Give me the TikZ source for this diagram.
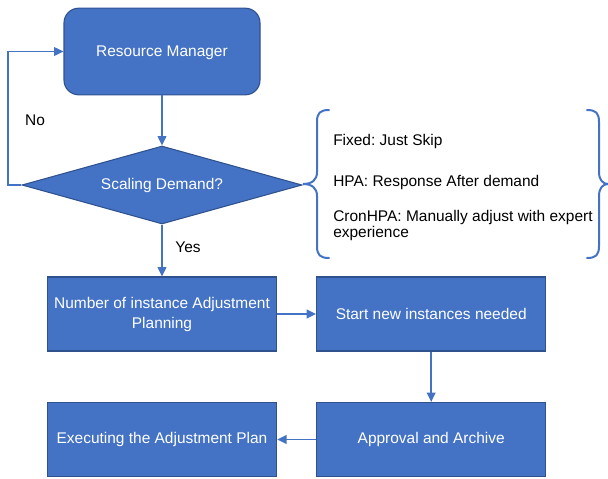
\documentclass[tikz,border=0pt]{standalone}
\usepackage{fontspec}
\setmainfont{Liberation Sans}
\usetikzlibrary{shapes.geometric, arrows.meta}
\definecolor{boxblue}{HTML}{4472C4}
\definecolor{edgeblue}{HTML}{2F528F}
\frenchspacing

\begin{document}
\begin{tikzpicture}[x=0.75pt, y=-0.75pt, font=\fontsize{11.6}{13}\selectfont,
  block/.style={draw=edgeblue, fill=boxblue, text=white, line width=0.8pt, minimum width=172pt, minimum height=55.5pt, align=center, inner sep=2pt},
  flow/.style={draw=boxblue, line width=1.1pt, -{Triangle[length=7pt,width=6.5pt]}},
  brace line/.style={draw=boxblue, line width=1.5pt, line cap=round}]

\useasboundingbox (0,0) rectangle (608,479);

\begin{scope}
\node[block, rounded corners=11pt, minimum width=147pt, minimum height=65pt, text depth=0pt] (rm) at (162,51.5) {Resource Manager};
\node[draw=edgeblue, fill=boxblue, text=white, line width=0.8pt, diamond, aspect=3.6, inner sep=0pt, minimum width=210pt, minimum height=58.5pt] (dec) at (162,185) {Scaling Demand?};

\node[block] (plan) at (162,314) {Number of instance Adjustment\\[2pt]Planning};
\node[block] (start) at (431.2,314) {Start new instances needed};
\node[block] (approve) at (431.2,439.5) {Approval and Archive};
\node[block] (exec) at (162,439.5) {Executing the Adjustment Plan};

\coordinate (loop) at (8,185);
\draw[flow] (rm) -- (dec);
\draw[flow] (dec.west) -- (loop) |- (rm.west);
\draw[flow] (dec) -- (plan);
\draw[flow] (plan) -- (start);
\draw[flow] (start) -- (approve);
\draw[flow] (approve) -- (exec);

\node (no) at (35,120) {No};
\node (yes) at (188,247) {Yes};
\end{scope}

\begin{scope}
\node[anchor=west, inner sep=0pt] (fixed) at (333,141) {Fixed: Just Skip};
\node[anchor=west, inner sep=0pt] (hpa) at (333,182) {HPA: Response After demand};
\node[anchor=north west, inner sep=0pt, align=left] (cron) at (333,210) {CronHPA: Manually adjust with expert\\[-1pt]experience};

\draw[brace line] (329,110) .. controls (320,110) and (317,113) .. (317,122) -- (317,172)
  .. controls (317,180) and (312,184) .. (303,184)
  .. controls (312,184) and (317,188) .. (317,196) -- (317,246)
  .. controls (317,255) and (320,258) .. (329,258);
\draw[brace line] (587,110) .. controls (596,110) and (599,113) .. (599,122) -- (599,172)
  .. controls (599,180) and (603,184) .. (608,184)
  .. controls (603,184) and (599,188) .. (599,196) -- (599,246)
  .. controls (599,255) and (596,258) .. (587,258);
\end{scope}

\end{tikzpicture}
\end{document}
